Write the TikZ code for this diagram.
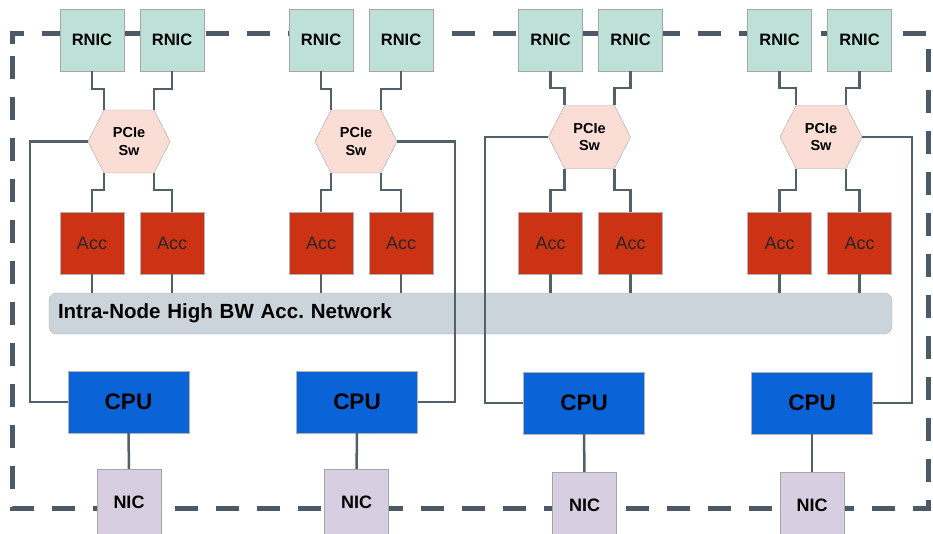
\documentclass[tikz,border=0pt]{standalone}
\usepackage{fontspec}
\setmainfont{Liberation Sans}
\usetikzlibrary{positioning,shapes.symbols}
\frenchspacing
\definecolor{frameslate}{RGB}{75,90,102}
\definecolor{wireslate}{RGB}{82,96,106}
\definecolor{pastelmint}{RGB}{190,225,215}
\definecolor{pastelrose}{RGB}{250,222,214}
\definecolor{rustred}{RGB}{204,51,20}
\definecolor{cpublue}{RGB}{10,100,215}
\definecolor{pastellilac}{RGB}{215,206,225}
\definecolor{bluegray}{RGB}{203,212,219}
\tikzset{
  rnic/.style={
    draw=black!35,
    fill=pastelmint,
    minimum width=64pt,
    minimum height=62pt,
    inner sep=0pt,
    font=\fontsize{16.5}{18}\selectfont\bfseries
  },
  pcie/.style={
    signal,
    signal to=west and east,
    signal pointer angle=126,
    draw=black!35,
    fill=pastelrose,
    align=center,
    minimum width=82pt,
    minimum height=63pt,
    inner sep=0pt,
    font=\fontsize{14.5}{17.5}\selectfont\bfseries
  },
  acc/.style={
    draw=black!30,
    fill=rustred,
    minimum width=64pt,
    minimum height=62pt,
    inner sep=0pt,
    text=black!85,
    font=\fontsize{18}{20}\selectfont
  },
  cpu/.style={
    draw=black!30,
    fill=cpublue,
    minimum width=121pt,
    minimum height=62pt,
    inner sep=0pt,
    font=\fontsize{22.5}{24}\selectfont\bfseries
  },
  nic/.style={
    draw=black!35,
    fill=pastellilac,
    minimum width=64pt,
    minimum height=66pt,
    inner sep=0pt,
    font=\fontsize{18}{20}\selectfont\bfseries
  },
  bus/.style={
    rounded corners=8pt,
    draw=black!30,
    fill=bluegray,
    align=left,
    text width=825pt,
    minimum height=41pt,
    inner xsep=9pt,
    font=\fontsize{20.5}{22}\selectfont\bfseries
  },
  wire/.style={
    line width=2.5pt,
    wireslate
  },
  frame/.style={
    line width=5pt,
    frameslate,
    dash pattern=on 23pt off 18pt
  }
}

\begin{document}
\begin{tikzpicture}[x=1pt,y=-1pt]
\useasboundingbox (0,0) rectangle (933,533);
% dashed outline of the server
\draw[frame] (12,44) -- (12,33) -- (928,33) -- (928,508) -- (12,508) -- cycle;

\node[rnic] (r11) at (92,40) {RNIC};
\node[rnic] (r12) at (172,40) {RNIC};
\node[rnic] (r21) at (321,40) {RNIC};
\node[rnic] (r22) at (401,40) {RNIC};
\node[rnic] (r31) at (550.5,40) {RNIC};
\node[rnic] (r32) at (630.5,40) {RNIC};
\node[rnic] (r41) at (779.5,40) {RNIC};
\node[rnic] (r42) at (859.5,40) {RNIC};

\node[pcie] (sw1) at (129,141.5) {PCIe\\Sw};
\node[pcie] (sw2) at (356,141.5) {PCIe\\Sw};
\node[pcie] (sw3) at (589.5,137) {PCIe\\Sw};
\node[pcie] (sw4) at (821,137) {PCIe\\Sw};

\node[acc] (a11) at (92,243) {Acc};
\node[acc] (a12) at (172,243) {Acc};
\node[acc] (a21) at (321,243) {Acc};
\node[acc] (a22) at (401,243) {Acc};
\node[acc] (a31) at (550.5,243) {Acc};
\node[acc] (a32) at (630.5,243) {Acc};
\node[acc] (a41) at (779.5,243) {Acc};
\node[acc] (a42) at (859.5,243) {Acc};

\node[bus] (bus) at (470.5,313.5) {Intra-Node High BW Acc. Network};

\node[cpu] (c1) at (128.5,402) {CPU};
\node[cpu] (c2) at (357,402) {CPU};
\node[cpu] (c3) at (584,403) {CPU};
\node[cpu] (c4) at (812,403) {CPU};

\node[nic] (n1) at (129,502) {NIC};
\node[nic] (n2) at (356.5,502) {NIC};
\node[nic] (n3) at (584.5,505) {NIC};
\node[nic] (n4) at (812,505) {NIC};

% RNIC to switch
\draw[wire] (r11.south) -- ++(0,18) -| ([xshift=-25pt]sw1.north);
\draw[wire] (r12.south) -- ++(0,18) -| ([xshift=25pt]sw1.north);
\draw[wire] (r21.south) -- ++(0,18) -| ([xshift=-25pt]sw2.north);
\draw[wire] (r22.south) -- ++(0,18) -| ([xshift=25pt]sw2.north);
\draw[wire] (r31.south) -- ++(0,17) -| ([xshift=-25pt]sw3.north);
\draw[wire] (r32.south) -- ++(0,17) -| ([xshift=25pt]sw3.north);
\draw[wire] (r41.south) -- ++(0,17) -| ([xshift=-25pt]sw4.north);
\draw[wire] (r42.south) -- ++(0,17) -| ([xshift=25pt]sw4.north);

% switch to accelerators
\draw[wire] ([xshift=-25pt]sw1.south) |- ([yshift=22pt]a11.north) -- (a11.north);
\draw[wire] ([xshift=25pt]sw1.south) |- ([yshift=22pt]a12.north) -- (a12.north);
\draw[wire] ([xshift=-25pt]sw2.south) |- ([yshift=22pt]a21.north) -- (a21.north);
\draw[wire] ([xshift=25pt]sw2.south) |- ([yshift=22pt]a22.north) -- (a22.north);
\draw[wire] ([xshift=-25pt]sw3.south) |- ([yshift=22pt]a31.north) -- (a31.north);
\draw[wire] ([xshift=25pt]sw3.south) |- ([yshift=22pt]a32.north) -- (a32.north);
\draw[wire] ([xshift=-25pt]sw4.south) |- ([yshift=22pt]a41.north) -- (a41.north);
\draw[wire] ([xshift=25pt]sw4.south) |- ([yshift=22pt]a42.north) -- (a42.north);

% accelerators to the network
\draw[wire] (a11.south) -- (a11.south |- bus.north);
\draw[wire] (a12.south) -- (a12.south |- bus.north);
\draw[wire] (a21.south) -- (a21.south |- bus.north);
\draw[wire] (a22.south) -- (a22.south |- bus.north);
\draw[wire] (a31.south) -- (a31.south |- bus.north);
\draw[wire] (a32.south) -- (a32.south |- bus.north);
\draw[wire] (a41.south) -- (a41.south |- bus.north);
\draw[wire] (a42.south) -- (a42.south |- bus.north);

% switch to CPU
\draw[wire] (sw1.west) -- ++(-58,0) |- (c1.west);
\draw[wire] (sw2.east) -- ++(58,0) |- (c2.east);
\draw[wire] (sw3.west) -- ++(-63.5,0) |- (c3.west);
\draw[wire] (sw4.east) -- ++(50,0) |- (c4.east);

% CPU to NIC
\draw[wire] (c1) -- (n1);
\draw[wire] (c2) -- (n2);
\draw[wire] (c3) -- (n3);
\draw[wire] (c4) -- (n4);
\end{tikzpicture}
\end{document}
